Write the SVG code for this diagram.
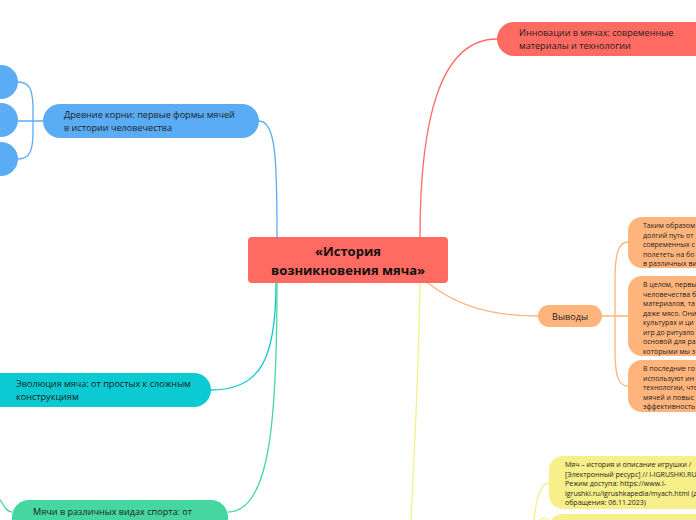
<svg xmlns="http://www.w3.org/2000/svg" width="696" height="520" viewBox="0 0 696 520">
<style>
text{font-family:"Open Sans","Noto Sans","Liberation Sans",sans-serif;fill:#1d1d1d}
.t{font-size:9.1px}
.s{font-size:7px}
.c{fill:none;stroke-width:1.3}
</style>
<rect width="696" height="520" fill="#ffffff"/>
<g id="connectors">
<path class="c" stroke="#ff6a62" d="M420,237 C420,120 440,39 497,39"/>
<path class="c" stroke="#5aacf5" d="M277,237 C277,160 276,121 259,121"/>
<path class="c" stroke="#5aacf5" d="M18,82 C30,82 33,90 33,110 L33,132 C33,150 30,159 18,159 M18,121 L43,121"/>
<path class="c" stroke="#0bcad2" d="M276,283 C276,360 260,390 211,390"/>
<path class="c" stroke="#46d6a1" d="M277,283 C277,420 270,512 228,512"/>
<path class="c" stroke="#46d6a1" d="M12,512 C6,512 4,505 0,500"/>
<path class="c" stroke="#ffb47c" d="M428,283 C450,300 480,316 538,316"/>
<path class="c" stroke="#ffb47c" d="M602,316 L628,316 M628,242 C618,242 615,255 615,280 L615,350 C615,375 618,386 628,386"/>
<path class="c" stroke="#f7ef8a" d="M420,283 C418,400 413,470 411,520"/>
<path class="c" stroke="#f7ef8a" d="M549,483 C540,483 536,500 534,520 M549,520 C545,517 542,518 540,520"/>
</g>
<g id="center">
<rect x="248" y="237" width="200" height="46" rx="4" fill="#ff6a62"/>
<text x="348" y="256" text-anchor="middle" font-size="13" font-weight="bold" style="fill:#111">«История</text>
<text x="348" y="275" text-anchor="middle" font-size="13" font-weight="bold" style="fill:#111">возникновения мяча»</text>
</g>
<g id="innovations">
<rect x="497" y="22" width="260" height="34" rx="17" fill="#ff6a62"/>
<text class="t" x="519" y="36">Инновации в мячах: современные</text>
<text class="t" x="519" y="49">материалы и технологии</text>
</g>
<g id="ancient">
<rect x="43" y="104" width="216" height="34" rx="17" fill="#5aacf5"/>
<text class="t" x="64" y="118">Древние корни: первые формы мячей</text>
<text class="t" x="64" y="131">в истории человечества</text>
</g>
<g id="ancient-1"><rect x="-200" y="65" width="218" height="34" rx="17" fill="#5aacf5"/></g>
<g id="ancient-2"><rect x="-200" y="103" width="218" height="34" rx="17" fill="#5aacf5"/></g>
<g id="ancient-3"><rect x="-200" y="142" width="218" height="34" rx="17" fill="#5aacf5"/></g>
<g id="evolution">
<rect x="-20" y="373" width="231" height="34" rx="17" fill="#0bcad2"/>
<text class="t" x="16" y="387">Эволюция мяча: от простых к сложным</text>
<text class="t" x="16" y="400">конструкциям</text>
</g>
<g id="sports">
<rect x="12" y="500" width="216" height="40" rx="17" fill="#46d6a1"/>
<text class="t" x="33" y="515">Мячи в различных видах спорта: от</text>
</g>
<g id="conclusions">
<rect x="538" y="305" width="64" height="22" rx="11" fill="#ffb47c"/>
<text class="t" x="570" y="319.5" text-anchor="middle">Выводы</text>
</g>
<g id="concl-1">
<rect x="628" y="217" width="120" height="51" rx="14" fill="#ffb47c"/>
<text class="s" x="643" y="228">Таким образом</text>
<text class="s" x="643" y="237.5">долгий путь от</text>
<text class="s" x="643" y="247">современных с</text>
<text class="s" x="643" y="256.5">полететь на бо</text>
<text class="s" x="643" y="266">в различных ви</text>
</g>
<g id="concl-2">
<rect x="628" y="276" width="120" height="80" rx="14" fill="#ffb47c"/>
<text class="s" x="643" y="287">В целом, первы</text>
<text class="s" x="643" y="296.5">человечества б</text>
<text class="s" x="643" y="306">материалов, та</text>
<text class="s" x="643" y="315.5">даже мясо. Они</text>
<text class="s" x="643" y="325">культурах и ци</text>
<text class="s" x="643" y="334.5">игр до ритуало</text>
<text class="s" x="643" y="344">основой для ра</text>
<text class="s" x="643" y="353.5">которыми мы з</text>
</g>
<g id="concl-3">
<rect x="628" y="360" width="120" height="52" rx="14" fill="#ffb47c"/>
<text class="s" x="643" y="371">В последние го</text>
<text class="s" x="643" y="380.5">используют ин</text>
<text class="s" x="643" y="390">технологии, что</text>
<text class="s" x="643" y="399.5">мячей и повыс</text>
<text class="s" x="643" y="409">эффективность</text>
</g>
<g id="source-1">
<rect x="549" y="456" width="200" height="53" rx="14" fill="#f7ef8a"/>
<text class="s" x="565" y="467">Мяч – история и описание игрушки /</text>
<text class="s" x="565" y="476.5">[Электронный ресурс] // I-IGRUSHKI.RU</text>
<text class="s" x="565" y="486">Режим доступа: https://www.i-</text>
<text class="s" x="565" y="495.5">igrushki.ru/igrushkapedia/myach.html (д</text>
<text class="s" x="565" y="505">обращения: 06.11.2023)</text>
</g>
<g id="source-2">
<rect x="549" y="514" width="200" height="40" rx="14" fill="#f7ef8a"/>
</g>
</svg>
